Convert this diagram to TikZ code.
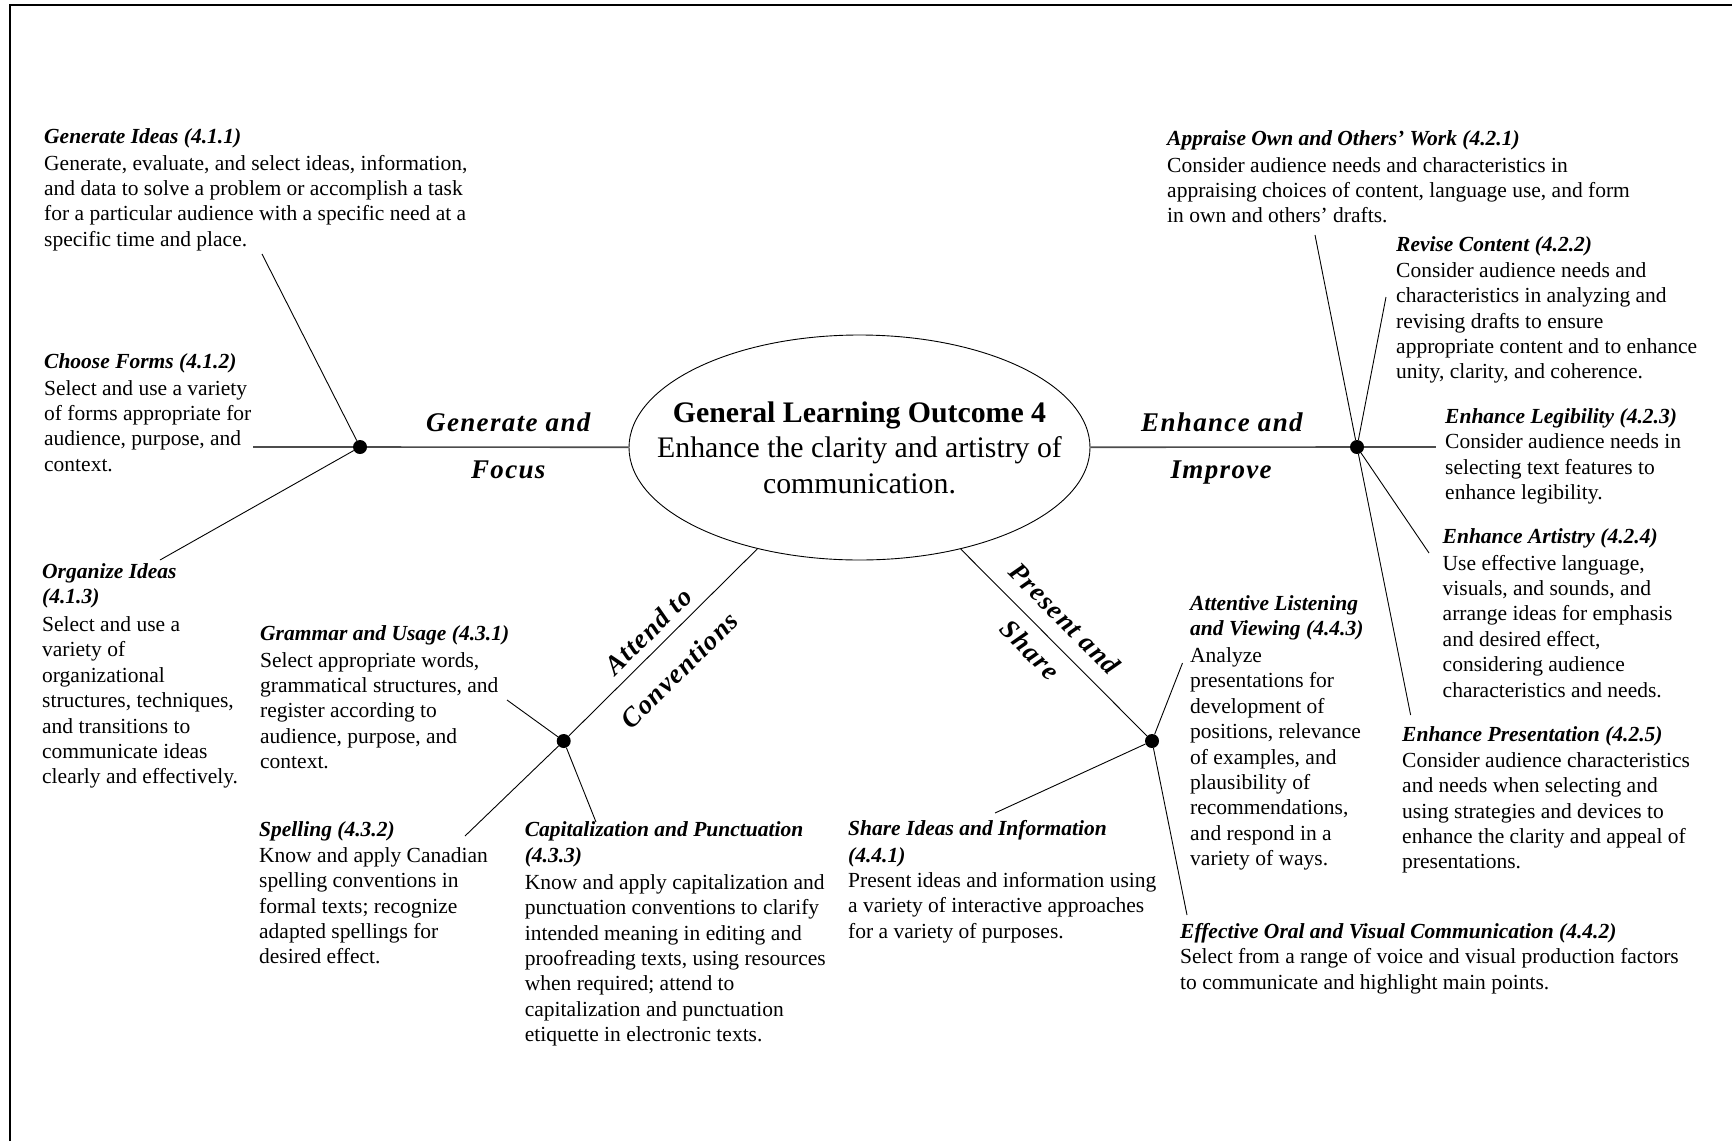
\documentclass[tikz,border=0pt]{standalone}
\usepackage{fontspec}
\setmainfont{Liberation Serif}
\newfontfamily\branchfont[LetterSpace=5]{Liberation Serif}
\usetikzlibrary{shapes.geometric}
\newcommand\itemhead[1]{\strut\textbf{\textit{#1}}}

\begin{document}
\begin{tikzpicture}[x=1pt,y=-1pt,
  item/.style={anchor=north west, yshift=17.78pt, align=left, inner sep=0pt,
    font=\fontsize{21.5}{25.4}\selectfont},
  dot/.style={circle, fill=black, minimum size=14pt, inner sep=0pt},
  mainline/.style={draw=black!70, line width=1.6pt},
  twig/.style={draw=black, line width=0.9pt},
  labfont/.style={font=\branchfont\fontsize{27}{30}\bfseries\itshape\selectfont},
  labtop/.style={labfont, sloped, anchor=south, inner xsep=0pt,
    inner ysep=15pt, text depth=0pt},
  labbot/.style={labfont, sloped, anchor=north, inner xsep=0pt,
    inner ysep=12.7pt, text height=17.8pt, text depth=0pt},
]
\useasboundingbox (0,0) rectangle (1732,1141);

% frame on the top and left edges
\draw[line width=1.8pt] (10,1141) -- (10,5) -- (1732,5);

% central outcome
\node[ellipse, draw, line width=0.9pt, minimum width=461pt, minimum height=225pt,
  inner sep=0pt] (ell) at (859.5,447.5) {};
\node[align=center, inner sep=0pt, font=\fontsize{29.8}{35.5}\selectfont]
  (glo) at (ell.center)
  {\textbf{General Learning Outcome 4}\\Enhance the clarity and artistry of\\communication.};

% branch hubs
\node[dot] (dG) at (360,447) {};
\node[dot] (dE) at (1357,447) {};
\node[dot] (dA) at (563.7,741) {};
\node[dot] (dP) at (1152,741) {};

% free ends of the connectors
\coordinate (gL) at (253,447);
\coordinate (eR) at (1436,447);
\coordinate (g1) at (262,254);
\coordinate (g3) at (160,560);
\coordinate (e1) at (1315,235);
\coordinate (e2) at (1386,297);
\coordinate (e4) at (1429,553);
\coordinate (e5) at (1410.6,715);
\coordinate (a1) at (507,700);
\coordinate (a2) at (465,836);
\coordinate (a3) at (596,822);
\coordinate (p1) at (995,813);
\coordinate (p3) at (1182.5,663);
\coordinate (p2) at (1187,915);

% main branches with their names
\draw[mainline] (gL) -- (dG);
\draw[mainline] (dG) -- node[labtop,pos=0.54]{Generate and} node[labbot,pos=0.54]{Focus} (ell);
\draw[mainline] (ell) -- node[labtop,pos=0.507]{Enhance and} node[labbot,pos=0.504]{Improve} (dE);
\draw[mainline] (dE) -- (eR);
\draw[twig] (dA) -- node[labtop,pos=0.49,inner ysep=9pt]{Attend to}
  node[labbot,pos=0.47,inner ysep=22pt]{Conventions} (ell);
\draw[twig] (ell) -- node[labtop,pos=0.465]{Present and} node[labbot,pos=0.457]{Share} (dP);

% twigs to the specific outcomes
\draw[twig] (dG) -- (g1);
\draw[twig] (dG) -- (g3);
\draw[twig] (dE) -- (e1);
\draw[twig] (dE) -- (e2);
\draw[twig] (dE) -- (e4);
\draw[twig] (dE) -- (e5);
\draw[twig] (dA) -- (a1);
\draw[twig] (dA) -- (a2);
\draw[twig] (dA) -- (a3);
\draw[twig] (dP) -- (p1);
\draw[twig] (dP) -- (p3);
\draw[twig] (dP) -- (p2);

% specific outcomes (each placed by the baseline of its first line)
\node[item] (gi) at (44,143) {\itemhead{Generate Ideas (4.1.1)}\\[1.5pt]
  Generate, evaluate, and select ideas, information,\\
  and data to solve a problem or accomplish a task\\
  for a particular audience with a specific need at a\\
  specific time and place.};
\node[item] (cf) at (44,368) {\itemhead{Choose Forms (4.1.2)}\\[1.5pt]
  Select and use a variety\\of forms appropriate for\\audience, purpose, and\\context.};
\node[item] (oi) at (42,578) {\itemhead{Organize Ideas}\\\itemhead{(4.1.3)}\\[2.5pt]
  Select and use a\\variety of\\organizational\\structures, techniques,\\and transitions to\\communicate ideas\\clearly and effectively.};

\node[item] (ap) at (1167,145) {\itemhead{Appraise Own and Others’ Work (4.2.1)}\\[1.5pt]
  Consider audience needs and characteristics in\\
  appraising choices of content, language use, and form\\
  in own and others’ drafts.};
\node[item] (rc) at (1396,251.7) {\itemhead{Revise Content (4.2.2)}\\
  Consider audience needs and\\characteristics in analyzing and\\revising drafts to ensure\\
  appropriate content and to enhance\\unity, clarity, and coherence.};
\node[item] (el) at (1445,423) {\itemhead{Enhance Legibility (4.2.3)}\\
  Consider audience needs in\\selecting text features to\\enhance legibility.};
\node[item] (ea) at (1442.5,543) {\itemhead{Enhance Artistry (4.2.4)}\\[1.5pt]
  Use effective language,\\visuals, and sounds, and\\arrange ideas for emphasis\\and desired effect,\\
  considering audience\\characteristics and needs.};
\node[item] (ep) at (1402,741.7) {\itemhead{Enhance Presentation (4.2.5)}\\
  Consider audience characteristics\\and needs when selecting and\\using strategies and devices to\\
  enhance the clarity and appeal of\\presentations.};

\node[item] (al) at (1190,610) {\itemhead{Attentive Listening}\\\itemhead{and Viewing (4.4.3)}\\[1.5pt]
  Analyze\\presentations for\\development of\\positions, relevance\\of examples, and\\
  plausibility of\\recommendations,\\and respond in a\\variety of ways.};
\node[item] (eo) at (1180,938) {\itemhead{Effective Oral and Visual Communication (4.4.2)}\\
  Select from a range of voice and visual production factors\\
  to communicate and highlight main points.};
\node[item] (si) at (848,835) {\itemhead{Share Ideas and Information}\\[1.5pt]\itemhead{(4.4.1)}\\
  Present ideas and information using\\a variety of interactive approaches\\for a variety of purposes.};

\node[item] (gu) at (260,640) {\itemhead{Grammar and Usage (4.3.1)}\\[1.5pt]
  Select appropriate words,\\grammatical structures, and\\register according to\\audience, purpose, and\\context.};
\node[item] (sp) at (259,836.7) {\itemhead{Spelling (4.3.2)}\\
  Know and apply Canadian\\spelling conventions in\\formal texts; recognize\\adapted spellings for\\desired effect.};
\node[item] (cp) at (524.6,836.7) {\itemhead{Capitalization and Punctuation}\\\itemhead{(4.3.3)}\\[1.5pt]
  Know and apply capitalization and\\punctuation conventions to clarify\\intended meaning in editing and\\
  proofreading texts, using resources\\when required; attend to\\capitalization and punctuation\\
  etiquette in electronic texts.};
\end{tikzpicture}
\end{document}
